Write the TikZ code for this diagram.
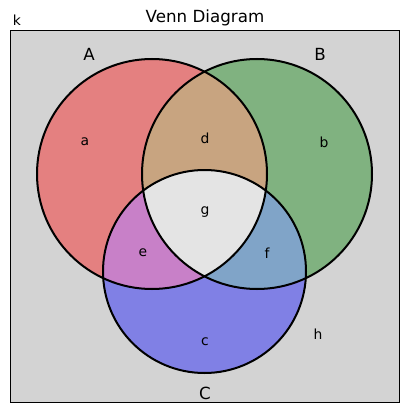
\documentclass[tikz,border=0pt]{standalone}
\usepackage{fontspec}
\setmainfont{DejaVu Sans}
\definecolor{bgray}{RGB}{211,211,211}
\definecolor{cA}{RGB}{228,128,128}
\definecolor{cB}{RGB}{128,178,128}
\definecolor{cC}{RGB}{128,128,229}
\definecolor{cAB}{RGB}{200,164,128}
\definecolor{cAC}{RGB}{200,128,200}
\definecolor{cBC}{RGB}{128,164,200}
\definecolor{cABC}{RGB}{228,228,228}
\tikzset{
  lbl/.style={font=\fontsize{13.9}{14}\selectfont, inner sep=0pt, anchor=center},
  setlbl/.style={font=\fontsize{16.7}{17}\selectfont, inner sep=0pt, anchor=center},
  ring/.style={draw=black, line width=2pt}
}
\begin{document}
\begin{tikzpicture}[x=1pt,y=-1pt]
\useasboundingbox (0,0) rectangle (409,412);
\fill[white] (0,0) rectangle (409,412);
\fill[bgray] (10.5,31) rectangle (399.5,402.5);
\def\circA{(152,174) circle (115)}
\def\circB{(257,174) circle (115)}
\def\circC{(204.5,271.5) circle (101.5)}
\fill[cA] \circA;
\fill[cB] \circB;
\fill[cC] \circC;
\begin{scope}\clip \circA; \fill[cAB] \circB; \fill[cAC] \circC; \end{scope}
\begin{scope}\clip \circB; \fill[cBC] \circC; \end{scope}
\begin{scope}\clip \circA; \clip \circB; \fill[cABC] \circC; \end{scope}
\draw[ring] \circA;
\draw[ring] \circB;
\draw[ring] \circC;
\draw[black, line width=1pt] (10.5,31) rectangle (399.5,402.5);
\node[setlbl] (title) at (205,18) {Venn Diagram};
\node[lbl] (k) at (17,20) {k};
\node[setlbl] (A) at (89,54) {A};
\node[setlbl] (B) at (320,54) {B};
\node[setlbl] (C) at (205,393) {C};
\node[lbl] (a) at (85,142) {a};
\node[lbl] (b) at (324,142) {b};
\node[lbl] (d) at (205,138) {d};
\node[lbl] (g) at (205,212) {g};
\node[lbl] (e) at (143,253) {e};
\node[lbl] (f) at (267,253) {f};
\node[lbl] (c) at (205,342) {c};
\node[lbl] (h) at (318,334) {h};
\end{tikzpicture}
\end{document}
